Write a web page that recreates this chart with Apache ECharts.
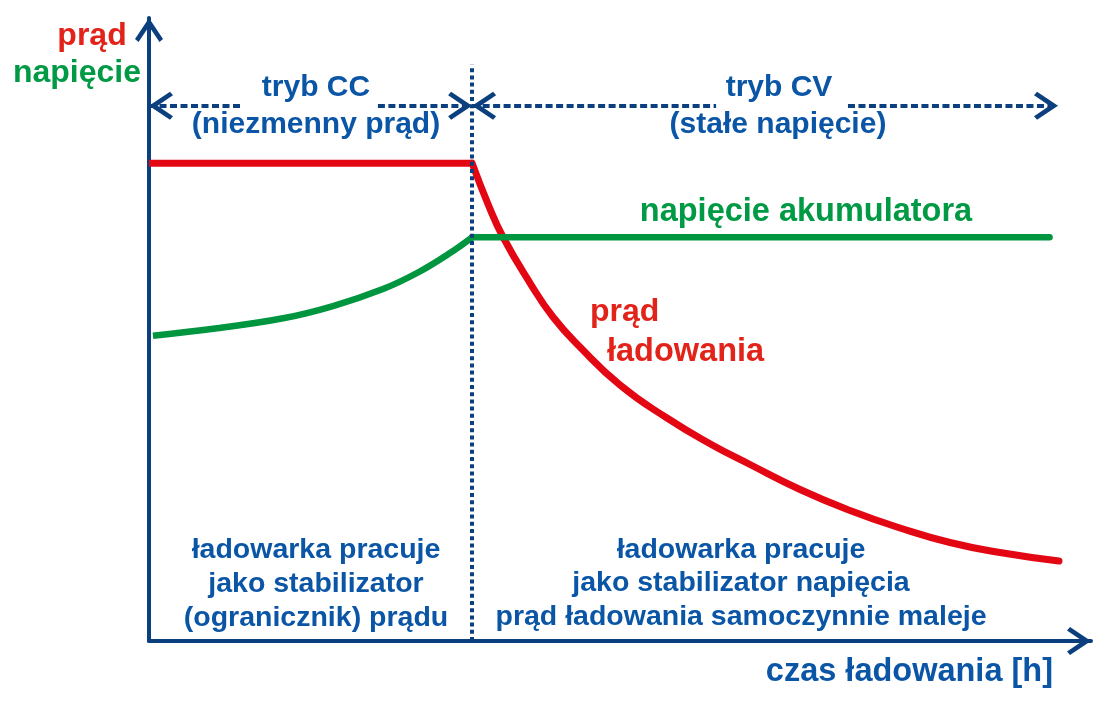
<!DOCTYPE html>
<html>
<head>
<meta charset="utf-8">
<script src="https://cdn.jsdelivr.net/npm/echarts@6/dist/echarts.min.js"></script>
<style>html,body{margin:0;padding:0;background:#fff;}#c{width:1105px;height:709px;}</style>
</head>
<body>
<div id="c"></div>
<script>
// ---- data (time in arbitrary units 0..10, value in arbitrary units 0..10) ----
const ccEnd = 3.43;
const currentCCTime = [0, 3.43];
const currentCCValue = [7.67, 7.67];
const currentCVTime = [3.43, 3.60, 3.758, 4.045, 4.289, 4.575, 5.00, 5.499, 5.955, 6.38, 6.911, 7.442, 7.972, 8.503, 9.034, 9.66];
const currentCVValue = [7.67, 7.01, 6.485, 5.746, 5.201, 4.719, 4.109, 3.579, 3.167, 2.833, 2.432, 2.095, 1.814, 1.581, 1.421, 1.284];
const voltageCCTime = [0.042, 0.722, 1.423, 1.953, 2.484, 2.845, 3.195, 3.43];
const voltageCCValue = [4.90, 5.02, 5.18, 5.377, 5.650, 5.907, 6.228, 6.48];
const voltageCVTime = [3.43, 9.56];
const voltageCVValue = [6.48, 6.48];
// mode arrows (dotted), level and segment ends
const modeArrowLevel = 8.59;
const ccArrowSegments = [[0, 1.0], [2.43, 3.43]];
const cvArrowSegments = [[3.43, 6.02], [7.42, 9.65]];
const dividerTop = 9.25;

const NAVY = '#0b3f7e';
const BLUE = '#0a55a5';
const RED = '#e30613';
const RED_T = '#e2231a';
const GREEN = '#009640';
const GREEN_T = '#009a44';
const FONT = '"Liberation Sans", Arial, sans-serif';
const CHEVRON = 'path://M14,0 L28,21 L24.5,24 L14,8.5 L3.5,24 L0,21 Z';

const zip = (a, b) => a.map((x, i) => [x, b[i]]);

const arrowLine = (seg, startArrow, endArrow) => [
  { coord: [seg[0], modeArrowLevel], symbol: startArrow ? CHEVRON : 'none', symbolSize: [28, 24], symbolOffset: [0, 12] },
  { coord: [seg[1], modeArrowLevel], symbol: endArrow ? CHEVRON : 'none', symbolSize: [28, 24], symbolOffset: [0, 12] }
];

const chart = echarts.init(document.getElementById('c'), null, { renderer: 'canvas' });

const axisCommon = {
  type: 'value', min: 0, max: 10,
  axisLabel: { show: false }, axisTick: { show: false }, splitLine: { show: false },
  axisLine: { show: true, onZero: false, symbol: ['none', CHEVRON], symbolSize: [28, 24], symbolOffset: [0, -12],
    lineStyle: { color: NAVY, width: 4 } }
};

const txt = (text, x, y, color, size, align) => ({
  type: 'text', z: 10,
  style: { text, x, y, fill: color, font: 'bold ' + size + 'px ' + FONT, textAlign: align || 'center', textVerticalAlign: 'middle' }
});

chart.setOption({
  animation: false,
  backgroundColor: '#ffffff',
  grid: { left: 149, right: 14, top: 18, bottom: 68 },
  xAxis: axisCommon,
  yAxis: axisCommon,
  series: [
    {
      type: 'line', data: [], z: 1, silent: true,
      markLine: {
        silent: true, animation: false,
        symbol: ['none', 'none'],
        label: { show: false },
        emphasis: { disabled: true },
        lineStyle: { color: NAVY, width: 4, type: [7, 3.5] },
        data: [
          arrowLine(ccArrowSegments[0], true, false),
          arrowLine(ccArrowSegments[1], false, true),
          arrowLine(cvArrowSegments[0], true, false),
          arrowLine(cvArrowSegments[1], false, true),
          [
            { coord: [ccEnd, 0], symbol: 'none', lineStyle: { type: [4, 3.2], width: 4, color: NAVY } },
            { coord: [ccEnd, dividerTop], symbol: 'none' }
          ]
        ]
      }
    },
    { type: 'line', z: 3, data: zip(currentCCTime, currentCCValue), showSymbol: false, lineStyle: { color: RED, width: 7, cap: 'butt' } },
    { type: 'line', z: 3, data: zip(currentCVTime, currentCVValue), showSymbol: false, smooth: 0.5, lineStyle: { color: RED, width: 7, cap: 'round' } },
    { type: 'line', z: 4, data: zip(voltageCCTime, voltageCCValue), showSymbol: false, smooth: 0.4, lineStyle: { color: GREEN, width: 6.5, cap: 'butt' } },
    { type: 'line', z: 4, data: zip(voltageCVTime, voltageCVValue), showSymbol: false, lineStyle: { color: GREEN, width: 6.5, cap: 'round' } }
  ],
  graphic: [
    txt('prąd', 92, 36, RED_T, 32),
    txt('napięcie', 77, 73, GREEN_T, 32),
    txt('tryb CC', 316, 88, BLUE, 30),
    txt('(niezmenny prąd)', 316, 125, BLUE, 30),
    txt('tryb CV', 779, 88, BLUE, 30),
    txt('(stałe napięcie)', 778, 125, BLUE, 30),
    txt('napięcie akumulatora', 806, 212, GREEN_T, 32.5),
    txt('prąd', 590, 312, RED_T, 32, 'left'),
    txt('ładowania', 607, 352, RED_T, 32.5, 'left'),
    txt('ładowarka pracuje', 316, 550, BLUE, 28.5),
    txt('jako stabilizator', 316, 584, BLUE, 28.5),
    txt('(ogranicznik) prądu', 316, 618, BLUE, 28.5),
    txt('ładowarka pracuje', 741, 550, BLUE, 28.5),
    txt('jako stabilizator napięcia', 741, 583, BLUE, 28.5),
    txt('prąd ładowania samoczynnie maleje', 741, 617, BLUE, 28.5),
    txt('czas ładowania [h]', 1053, 672, BLUE, 32.5, 'right')
  ]
});
</script>
</body>
</html>
